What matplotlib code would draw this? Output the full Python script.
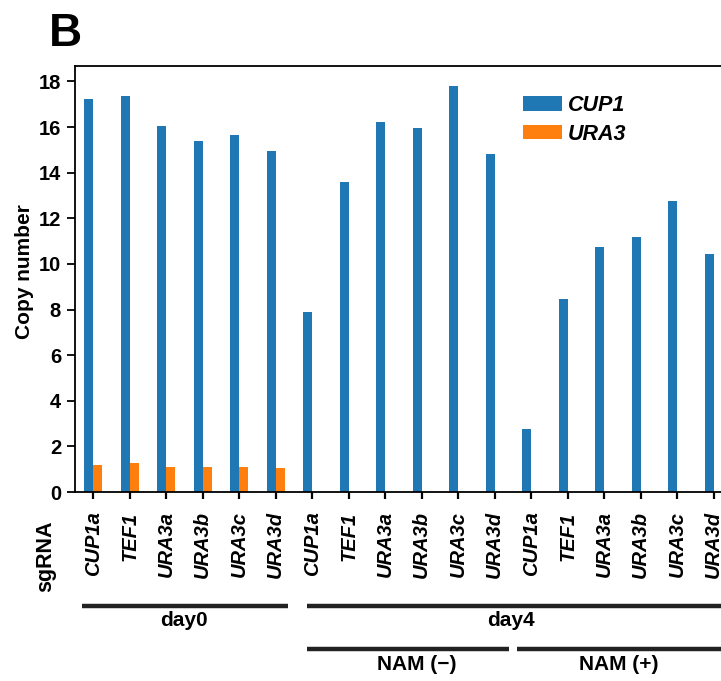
import numpy as np
import matplotlib
matplotlib.use("Agg")
import matplotlib.pyplot as plt
import matplotlib.transforms as mtransforms

plt.rcParams["font.family"] = ["Liberation Sans", "DejaVu Sans"]

# ── data ──────────────────────────────────────────────────────────────────────
SGRNA = ["CUP1a", "TEF1", "URA3a", "URA3b", "URA3c", "URA3d"] * 3
CUP1  = [17.21, 17.35, 16.03, 15.37, 15.64, 14.94,
         7.88, 13.58, 16.21, 15.94, 17.78, 14.80,
         2.76, 8.45, 10.73, 11.17, 12.75, 10.42]
URA3  = [1.18, 1.27, 1.10, 1.10, 1.10, 1.05,
         0, 0, 0, 0, 0, 0,
         0, 0, 0, 0, 0, 0]
Y_TICKS = list(range(0, 19, 2))

BLUE   = "#1f77b4"
ORANGE = "#ff7f0e"
W, H = 721, 681

fig = plt.figure(figsize=(W / 100, H / 100), dpi=100)
ax = fig.add_axes([75 / W, 1 - 492 / H, 657 / W, (492 - 65.5) / H])

x = np.arange(len(SGRNA))
bw = 0.25
ax.bar(x - bw / 2, CUP1, width=bw, color=BLUE, label="CUP1")
ax.bar(x + bw / 2, URA3, width=bw, color=ORANGE, label="URA3")

ax.set_xlim(-0.5, len(SGRNA) - 0.5)
ax.set_ylim(0, 18.7)
ax.set_yticks(Y_TICKS)
ax.set_yticklabels([str(v) for v in Y_TICKS], fontsize=14.5, fontweight="bold")
ax.set_xticks(x)
ax.set_xticklabels(SGRNA, rotation=90, fontsize=14.5, fontstyle="italic",
                   fontweight="bold", va="top", ha="center")
ax.tick_params(axis="y", direction="out", length=6, width=1.3, pad=4)
ax.tick_params(axis="x", direction="out", length=5, width=1.6, pad=9)
for sp in ax.spines.values():
    sp.set_linewidth(1.3)

fig.text(24 / W, 1 - 272 / H, "Copy number", rotation=90, ha="center",
         va="center", fontsize=15, fontweight="bold")
fig.text(46 / W, 1 - 556 / H, "sgRNA", rotation=90, ha="center",
         va="center", fontsize=15.5, fontweight="bold")
fig.text(49 / W, 1 - 46 / H, "B", ha="left", va="baseline",
         fontsize=33, fontweight="bold")

leg = fig.legend(loc="upper left", bbox_to_anchor=(523 / W, 1 - 95 / H),
                 frameon=False, borderpad=0, borderaxespad=0,
                 handlelength=1.8, handleheight=0.65, handletextpad=0.3,
                 labelspacing=0.35,
                 prop={"size": 15.5, "weight": "bold", "style": "italic"})

# ── group annotations below the axis ─────────────────────────────────────────
trans = mtransforms.blended_transform_factory(ax.transData, fig.transFigure)
y1 = 1 - 606 / H
y2 = 1 - 649 / H
lines = [(-0.31, 5.33, y1), (5.85, 18.0, y1), (5.85, 11.38, y2), (11.6, 18.0, y2)]
for x0, x1, yy in lines:
    ax.plot([x0, x1], [yy, yy], color="#222222", lw=3.2, transform=trans,
            clip_on=False, solid_capstyle="butt")
labels = [(2.49, 1 - 620 / H, "day0"), (11.44, 1 - 620 / H, "day4"),
          (8.87, 1 - 664 / H, "NAM (\u2212)"), (14.4, 1 - 664 / H, "NAM (+)")]
for xx, yy, t in labels:
    ax.text(xx, yy, t, transform=trans, ha="center", va="center",
            fontsize=15, fontweight="bold")

fig.savefig("out.png", dpi=100)
